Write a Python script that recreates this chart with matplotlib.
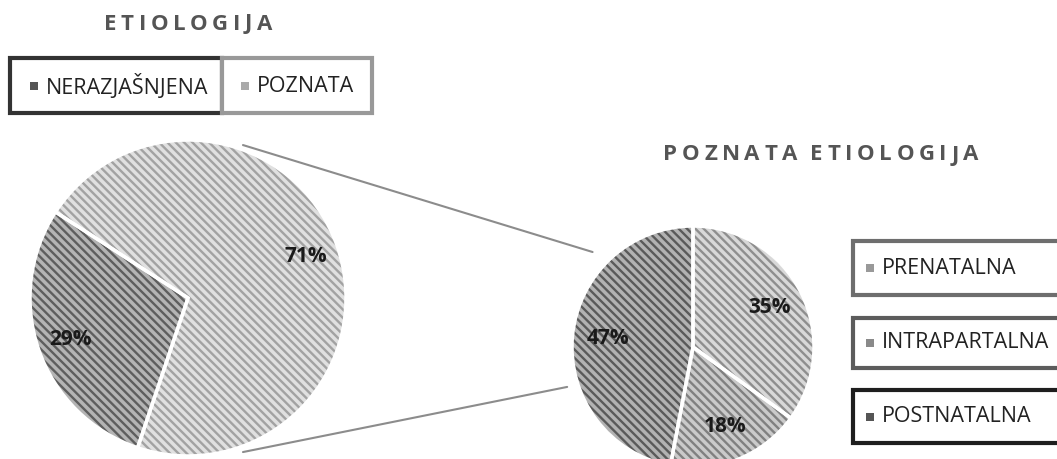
import matplotlib.pyplot as plt
import matplotlib as mpl
from matplotlib.patches import Rectangle, ConnectionPatch

mpl.rcParams['font.family'] = ['Open Sans', 'DejaVu Sans']
mpl.rcParams['hatch.linewidth'] = 1.7

# data
main_labels = ['NERAZJAŠNJENA', 'POZNATA']
main_values = [29, 71]
known_labels = ['PRENATALNA', 'INTRAPARTALNA', 'POSTNATALNA']
known_values = [35, 18, 47]

main_bg = ['#b4b4b4', '#e0e0e0']
main_hatch = ['#5e5e5e', '#a2a2a2']
known_bg = ['#d8d8d8', '#cacaca', '#b2b2b2']
known_hatch = ['#8e8e8e', '#808080', '#5a5a5a']

W, H = 1057, 459
fig = plt.figure(figsize=(W / 100, H / 100), dpi=100)
renderer = fig.canvas.get_renderer()


def px_axes(cx, cy, r):
    return fig.add_axes([(cx - r) / W, (H - cy - r) / H, 2 * r / W, 2 * r / H])


def hatched_pie(ax, values, bg, hc, start, ccw, pctdist):
    wedges, _ = ax.pie(values, colors=bg, startangle=start, counterclock=ccw,
                       wedgeprops=dict(linewidth=0))
    for w, c in zip(wedges, hc):
        w.set_hatch('\\\\\\\\')
        w.set_edgecolor(c)
    ax.pie(values, startangle=start, counterclock=ccw,
           autopct='%d%%', pctdistance=pctdist,
           wedgeprops=dict(facecolor='none', edgecolor='white', linewidth=2.5),
           textprops=dict(fontsize=15, fontweight='bold', color='#1a1a1a'))
    ax.set_xlim(-1, 1)
    ax.set_ylim(-1, 1)
    ax.set_aspect('equal')
    ax.axis('off')


ax1 = px_axes(188, 298, 158)
hatched_pie(ax1, main_values, main_bg, main_hatch, 147, True, 0.79)

ax2 = px_axes(693, 347, 121)
hatched_pie(ax2, known_values, known_bg, known_hatch, 90, False, 0.71)

# connector lines
for a, b in [((0.348, 0.968), (-0.83, 0.785)), ((0.348, -0.975), (-1.04, -0.33))]:
    con = ConnectionPatch(xyA=a, coordsA=ax1.transData, xyB=b, coordsB=ax2.transData,
                          color='#8c8c8c', linewidth=1.5)
    fig.add_artist(con)


# letter-spaced titles
def tracked(text, cx, cy, track, space, **kw):
    arts, widths = [], []
    for ch in text:
        if ch == ' ':
            arts.append(None)
            widths.append(space)
            continue
        t = fig.text(0, 1 - cy / H, ch, ha='left', va='center', **kw)
        arts.append(t)
        widths.append(t.get_window_extent(renderer).width)
    total = sum(widths) + track * (len(text) - 1)
    x = cx - total / 2
    for t, w in zip(arts, widths):
        if t is not None:
            t.set_x(x / W)
        x += w + track


tkw = dict(fontsize=16, fontweight='bold', color='#555555')
tracked('ETIOLOGIJA', 188, 24, 4.6, 0, **tkw)
tracked('POZNATA ETIOLOGIJA', 821, 155, 4.6, 4, **tkw)


def box(x0, y0, x1, y1, color):
    fig.add_artist(Rectangle((x0 / W, 1 - y1 / H), (x1 - x0) / W, (y1 - y0) / H,
                             transform=fig.transFigure, facecolor='white',
                             edgecolor=color, linewidth=3))


def entry(x, y, label, marker):
    fig.add_artist(Rectangle(((x - 4) / W, 1 - (y + 4) / H), 8 / W, 8 / H,
                             transform=fig.transFigure, facecolor=marker, edgecolor='none'))
    fig.text((x + 12) / W, 1 - y / H, label, ha='left', va='center',
             fontsize=15.5, color='#222222')


# top legend
top_boxes = [(10, 58, 222, 113, '#333333'), (222, 58, 372, 113, '#999999')]
top_marks = ['#555555', '#aaaaaa']
top_x = [34, 245]
for (x0, y0, x1, y1, c), lab, m, tx in zip(top_boxes, main_labels, top_marks, top_x):
    box(x0, y0, x1, y1, c)
    entry(tx, 86, lab, m)

# right legend
right_boxes = [(853, 241, 1070, 295, '#6e6e6e'), (853, 318, 1070, 368, '#5c5c5c'),
               (853, 390, 1070, 443, '#1e1e1e')]
right_marks = ['#999999', '#8a8a8a', '#555555']
for (x0, y0, x1, y1, c), lab, m in zip(right_boxes, known_labels, right_marks):
    box(x0, y0, x1, y1, c)
    entry(870, (y0 + y1) / 2, lab, m)

fig.savefig('out.png', dpi=100)
